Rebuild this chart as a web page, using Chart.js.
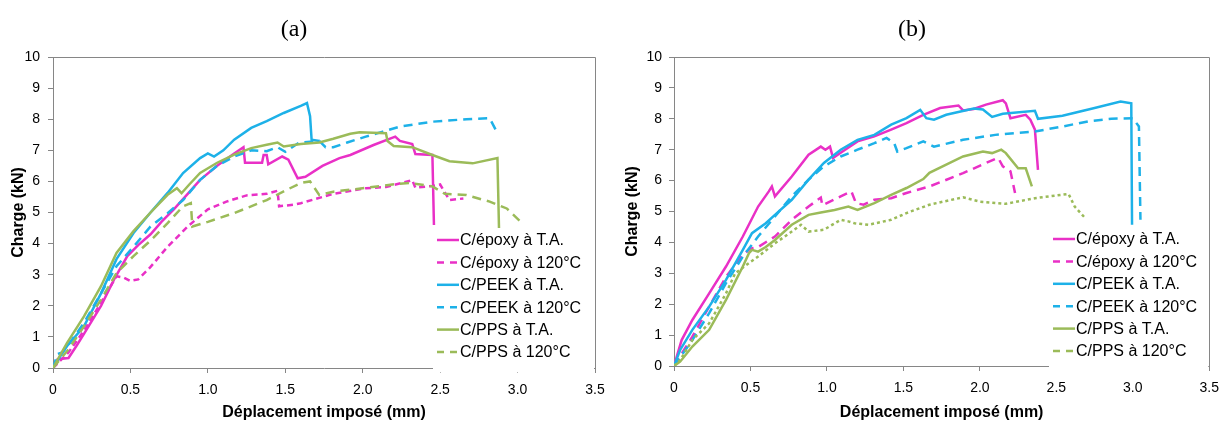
<!DOCTYPE html>
<html lang="fr">
<head>
  <meta charset="UTF-8">
  <title>Charge / déplacement</title>
  <script src="https://cdn.jsdelivr.net/npm/chart.js"></script>
  <style>
    body { margin: 0; background: #fff; }
    .row { display: flex; width: 1228px; height: 425px; }
    .panel { width: 614px; height: 425px; }
  </style>
</head>
<body>
<div class="row">
  <div class="panel"><canvas id="chartA" width="614" height="425"></canvas></div>
  <div class="panel"><canvas id="chartB" width="614" height="425"></canvas></div>
</div>

<script>
// --- series names (same for both panels) ---
const seriesLabels = ['C/époxy à T.A.', 'C/époxy à 120°C', 'C/PEEK à T.A.', 'C/PEEK à 120°C', 'C/PPS à T.A.', 'C/PPS à 120°C'];

// --- panel (a): [déplacement mm, charge kN] ---
const aEpoxyTA = [[0,0],[0.03,0.28],[0.1,0.32],[0.15,0.7],[0.2,1.1],[0.31,2.0],[0.4,2.9],[0.48,3.6],[0.55,3.95],[0.63,4.3],[0.7,4.7],[0.78,5.1],[0.87,5.6],[0.95,6.05],[1.06,6.5],[1.17,6.9],[1.23,7.1],[1.24,6.6],[1.35,6.6],[1.36,6.85],[1.38,6.85],[1.39,6.55],[1.48,6.8],[1.52,6.7],[1.58,6.1],[1.63,6.15],[1.74,6.5],[1.85,6.75],[1.92,6.85],[2.07,7.17],[2.21,7.44],[2.24,7.3],[2.32,7.2],[2.34,6.88],[2.45,6.85],[2.46,4.6]];
const aEpoxy120 = [[0,0],[0.1,0.5],[0.2,1.2],[0.31,2.1],[0.41,2.95],[0.46,2.9],[0.5,2.8],[0.55,2.85],[0.63,3.25],[0.74,3.9],[0.87,4.55],[1.0,5.1],[1.12,5.35],[1.25,5.55],[1.38,5.6],[1.45,5.7],[1.46,5.2],[1.55,5.25],[1.6,5.3],[1.81,5.6],[2.02,5.78],[2.15,5.82],[2.32,6.04],[2.34,5.8],[2.45,5.85],[2.5,5.9],[2.56,5.4],[2.65,5.45]];
const aPeekTA = [[0,0],[0.05,0.4],[0.09,0.7],[0.2,1.34],[0.31,2.4],[0.41,3.5],[0.52,4.34],[0.63,5.0],[0.74,5.63],[0.84,6.27],[0.95,6.75],[1.0,6.9],[1.04,6.8],[1.1,7.0],[1.17,7.34],[1.28,7.72],[1.38,7.94],[1.49,8.2],[1.6,8.43],[1.64,8.52],[1.66,8.1],[1.67,7.34],[1.72,7.3]];
const aPeek120 = [[0,0],[0.03,0.45],[0.06,0.5],[0.1,0.75],[0.2,1.45],[0.31,2.4],[0.41,3.27],[0.52,3.9],[0.63,4.55],[0.74,4.98],[0.84,5.4],[0.95,6.05],[1.06,6.5],[1.17,6.8],[1.28,7.0],[1.38,6.97],[1.45,7.1],[1.5,6.95],[1.59,7.25],[1.72,7.3],[1.76,7.1],[1.81,7.1],[1.9,7.25],[2.02,7.44],[2.13,7.6],[2.24,7.76],[2.45,7.92],[2.67,8.0],[2.82,8.03],[2.86,7.65]];
const aPpsTA = [[0,0],[0.05,0.45],[0.09,0.8],[0.2,1.66],[0.31,2.63],[0.41,3.7],[0.52,4.4],[0.63,5.0],[0.74,5.57],[0.8,5.78],[0.83,5.62],[0.88,5.9],[0.95,6.27],[1.06,6.6],[1.17,6.86],[1.28,7.07],[1.38,7.18],[1.45,7.25],[1.49,7.12],[1.6,7.2],[1.72,7.25],[1.81,7.37],[1.92,7.53],[1.98,7.58],[2.15,7.55],[2.16,7.3],[2.2,7.14],[2.32,7.1],[2.45,6.85],[2.56,6.65],[2.71,6.58],[2.87,6.75],[2.88,4.5]];
const aPps120 = [[0,0],[0.1,0.6],[0.2,1.34],[0.31,2.2],[0.41,3.05],[0.52,3.6],[0.63,4.1],[0.74,4.66],[0.84,5.2],[0.89,5.3],[0.9,4.55],[1.0,4.7],[1.17,4.98],[1.38,5.4],[1.49,5.68],[1.6,5.95],[1.66,6.0],[1.72,5.56],[1.81,5.67],[2.02,5.79],[2.19,5.9],[2.3,5.95],[2.45,5.84],[2.53,5.6],[2.67,5.56],[2.82,5.35],[2.93,5.13],[3.02,4.7]];

// --- panel (b) ---
const bEpoxyTA = [[0,0],[0.05,0.84],[0.12,1.49],[0.23,2.35],[0.34,3.22],[0.45,4.19],[0.55,5.16],[0.62,5.65],[0.64,5.81],[0.66,5.49],[0.77,6.13],[0.88,6.84],[0.96,7.1],[0.99,7.0],[1.02,7.1],[1.04,6.73],[1.09,6.9],[1.2,7.27],[1.31,7.43],[1.42,7.65],[1.52,7.86],[1.63,8.13],[1.74,8.35],[1.86,8.43],[1.89,8.27],[1.96,8.32],[2.04,8.46],[2.15,8.6],[2.17,8.5],[2.2,8.02],[2.3,8.13],[2.33,7.97],[2.36,7.65],[2.38,6.35]];
const bEpoxy120 = [[0,0],[0.12,0.95],[0.23,1.92],[0.34,2.89],[0.45,3.6],[0.5,3.8],[0.55,3.85],[0.66,4.19],[0.77,4.73],[0.88,5.16],[0.96,5.45],[0.97,5.2],[1.09,5.49],[1.16,5.65],[1.19,5.27],[1.24,5.22],[1.31,5.38],[1.42,5.43],[1.52,5.6],[1.67,5.81],[1.89,6.24],[2.1,6.7],[2.12,6.73],[2.15,6.46],[2.2,6.3],[2.23,5.6]];
const bPeekTA = [[0,0],[0.04,0.52],[0.12,1.17],[0.23,1.92],[0.34,2.79],[0.45,3.76],[0.51,4.3],[0.6,4.62],[0.66,4.89],[0.77,5.38],[0.88,6.03],[0.98,6.57],[1.09,7.0],[1.2,7.32],[1.31,7.48],[1.42,7.81],[1.52,8.02],[1.61,8.29],[1.65,8.02],[1.7,7.97],[1.78,8.13],[1.96,8.33],[2.02,8.3],[2.08,8.06],[2.15,8.16],[2.36,8.26],[2.38,8.0],[2.54,8.1],[2.75,8.35],[2.92,8.56],[2.99,8.5],[2.995,4.57]];
const bPeek120 = [[0,0],[0.12,0.84],[0.23,1.71],[0.34,2.68],[0.45,3.54],[0.55,4.19],[0.66,4.84],[0.77,5.49],[0.88,6.03],[0.98,6.46],[1.09,6.78],[1.2,7.0],[1.31,7.21],[1.39,7.38],[1.44,7.21],[1.46,6.94],[1.52,7.05],[1.63,7.27],[1.7,7.1],[1.89,7.32],[2.1,7.48],[2.36,7.59],[2.54,7.75],[2.71,7.92],[2.86,8.0],[3.0,8.02],[3.04,7.75],[3.05,4.73]];
const bPpsTA = [[0,0],[0.04,0.14],[0.12,0.63],[0.23,1.17],[0.34,2.14],[0.45,3.22],[0.49,3.65],[0.51,3.76],[0.55,3.7],[0.6,3.85],[0.66,4.08],[0.77,4.57],[0.88,4.89],[0.96,4.97],[1.05,5.05],[1.14,5.16],[1.2,5.05],[1.31,5.27],[1.42,5.54],[1.52,5.76],[1.63,6.05],[1.67,6.25],[1.89,6.78],[2.02,6.94],[2.08,6.89],[2.14,7.0],[2.17,6.89],[2.25,6.4],[2.3,6.4],[2.34,5.81]];
const bPps120 = [[0,0],[0.04,0.19],[0.12,0.84],[0.23,1.38],[0.34,2.35],[0.4,3.0],[0.49,3.33],[0.55,3.54],[0.66,3.97],[0.77,4.35],[0.83,4.57],[0.88,4.35],[0.98,4.41],[1.09,4.73],[1.14,4.68],[1.18,4.62],[1.27,4.57],[1.42,4.73],[1.52,4.95],[1.67,5.22],[1.89,5.46],[2.0,5.32],[2.17,5.25],[2.36,5.43],[2.58,5.57],[2.62,5.16],[2.69,4.78]];

const COLORS = ['#e930c6', '#e930c6', '#1db1e8', '#1db1e8', '#9bbb59', '#9bbb59'];
const AXIS = '#868686';

Chart.defaults.font.family = "'Liberation Sans', Arial, sans-serif";
Chart.defaults.color = '#000';

// plot frame, panel letter and Excel-like legend inside the plot
const decor = {
  id: 'decor',
  afterDraw(chart, args, o) {
    const ctx = chart.ctx, a = chart.chartArea;
    ctx.save();
    ctx.strokeStyle = AXIS;
    ctx.lineWidth = 1;
    ctx.beginPath();
    ctx.moveTo(Math.round(a.left) + 0.5, Math.round(a.top) + 0.5);
    ctx.lineTo(Math.round(a.right) + 0.5, Math.round(a.top) + 0.5);
    ctx.lineTo(Math.round(a.right) + 0.5, Math.round(a.bottom) + 0.5);
    ctx.stroke();

    // panel letter
    ctx.fillStyle = '#000';
    ctx.font = "24px 'Liberation Serif', 'Times New Roman', serif";
    ctx.textAlign = 'center';
    ctx.textBaseline = 'alphabetic';
    ctx.fillText(o.letter, o.letterX, 36);

    // legend
    const step = 22.4;
    ctx.fillStyle = '#fff';
    ctx.fillRect(o.legX - 4, o.legY - 12, a.right - o.legX + 3, step * 6 + 10);
    ctx.font = "16px 'Liberation Sans', Arial, sans-serif";
    ctx.textAlign = 'left';
    ctx.textBaseline = 'middle';
    chart.data.datasets.forEach((ds, i) => {
      const y = o.legY + i * step;
      ctx.strokeStyle = ds.borderColor;
      ctx.lineWidth = 2.5;
      ctx.setLineDash(ds.borderDash.length ? [7, 6] : []);
      ctx.beginPath();
      ctx.moveTo(o.legX, y);
      ctx.lineTo(o.legX + 22, y);
      ctx.stroke();
      ctx.setLineDash([]);
      ctx.fillStyle = '#000';
      ctx.fillText(ds.label, o.legX + 23, y + 1);
    });
    ctx.restore();
  }
};

function makeChart(id, series, dashes, cfg) {
  const datasets = series.map((pts, i) => ({
    label: seriesLabels[i],
    data: pts.map(p => ({ x: p[0], y: p[1] })),
    borderColor: COLORS[i],
    borderWidth: 2.5,
    borderDash: dashes[i],
    pointRadius: 0,
    tension: 0,
    fill: false,
    order: 6 - i
  }));

  new Chart(document.getElementById(id), {
    type: 'line',
    data: { datasets },
    plugins: [decor],
    options: {
      responsive: false,
      animation: false,
      layout: { padding: { top: 57, right: cfg.padRight, left: 0, bottom: 0 } },
      scales: {
        x: {
          type: 'linear', min: 0, max: 3.5,
          afterFit: s => { s.height = cfg.xHeight; },
          ticks: { stepSize: 0.5, font: { size: 14 }, padding: 9, maxRotation: 0 },
          grid: { drawOnChartArea: false, drawTicks: true, tickLength: 5, color: AXIS },
          border: { color: AXIS },
          title: { display: true, text: 'Déplacement imposé (mm)', font: { size: 16, weight: 'bold' }, padding: { top: 0, bottom: 3 } }
        },
        y: {
          min: 0, max: 10,
          afterFit: s => { s.width = cfg.yWidth; },
          ticks: { stepSize: 1, font: { size: 14 }, padding: cfg.yPad },
          grid: { drawOnChartArea: false, drawTicks: true, tickLength: 5, color: AXIS },
          border: { color: AXIS },
          title: { display: true, text: 'Charge (kN)', font: { size: 16, weight: 'bold' }, padding: { top: 9, bottom: 0 } }
        }
      },
      plugins: {
        legend: { display: false },
        tooltip: { enabled: false },
        decor: cfg.decor
      }
    }
  });
}

makeChart('chartA', [aEpoxyTA, aEpoxy120, aPeekTA, aPeek120, aPpsTA, aPps120],
  [[], [6, 4], [], [9, 6], [], [9, 6]],
  { padRight: 19, xHeight: 57, yWidth: 53, yPad: 8,
    decor: { letter: '(a)', letterX: 294, legX: 437, legY: 240 } });

makeChart('chartB', [bEpoxyTA, bEpoxy120, bPeekTA, bPeek120, bPpsTA, bPps120],
  [[], [9, 6], [], [9, 6], [], [3, 3]],
  { padRight: 17, xHeight: 59, yWidth: 60, yPad: 7,
    decor: { letter: '(b)', letterX: 298, legX: 439, legY: 239 } });
</script>
</body>
</html>
